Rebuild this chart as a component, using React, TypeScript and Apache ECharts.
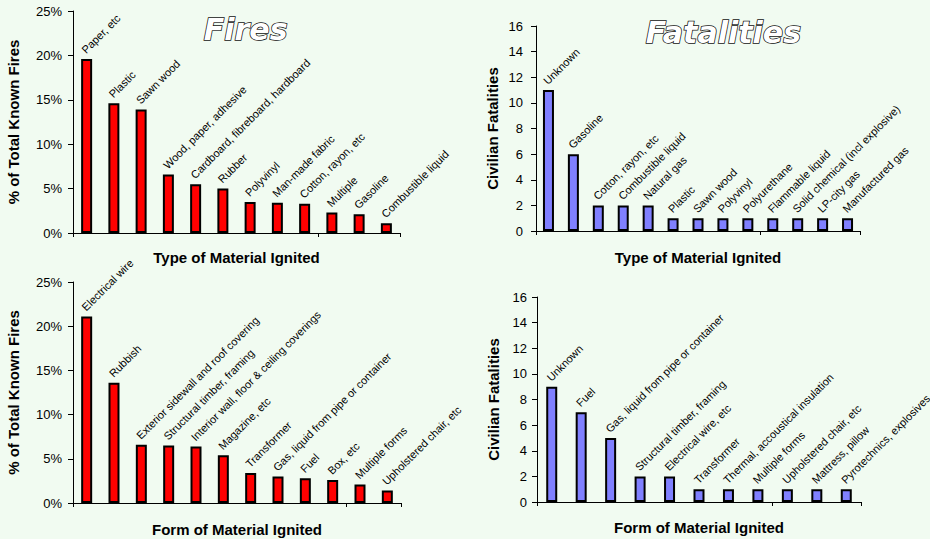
import React, { useEffect, useRef } from "react";
import * as echarts from "echarts";

const fireTypeCats = ["Paper, etc", "Plastic", "Sawn wood", "Wood, paper, adhesive", "Cardboard, fibreboard, hardboard", "Rubber", "Polyvinyl", "Man-made fabric", "Cotton, rayon, etc", "Multiple", "Gasoline", "Combustible liquid"];
const fireTypeVals = [19.6, 14.6, 13.9, 6.6, 5.5, 5.0, 3.5, 3.4, 3.3, 2.3, 2.1, 1.1];

const fatalTypeCats = ["Unknown", "Gasoline", "Cotton, rayon, etc", "Combustible liquid", "Natural gas", "Plastic", "Sawn wood", "Polyvinyl", "Polyurethane", "Flammable liquid", "Solid chemical (incl explosive)", "LP-city gas", "Manufactured gas"];
const fatalTypeVals = [11, 6, 2, 2, 2, 1, 1, 1, 1, 1, 1, 1, 1];

const fireFormCats = ["Electrical wire", "Rubbish", "Exterior sidewall and roof covering", "Structural timber, framing", "Interior wall, floor & ceiling coverings", "Magazine, etc", "Transformer", "Gas, liquid from pipe or container", "Fuel", "Box, etc", "Multiple forms", "Upholstered chair, etc"];
const fireFormVals = [21.1, 13.6, 6.6, 6.5, 6.4, 5.4, 3.4, 3.0, 2.8, 2.6, 2.1, 1.4];

const fatalFormCats = ["Unknown", "Fuel", "Gas, liquid from pipe or container", "Structural timber, framing", "Electrical wire, etc", "Transformer", "Thermal, accoustical insulation", "Multiple forms", "Upholstered chair, etc", "Mattress, pillow", "Pyrotechnics, explosives"];
const fatalFormVals = [9, 7, 5, 2, 2, 1, 1, 1, 1, 1, 1];

const FONT = "'Liberation Sans', Arial, sans-serif";

export default function App() {
  const ref = useRef<HTMLDivElement>(null);
  useEffect(() => {
    document.body.style.margin = "0";
    const chart = echarts.init(ref.current!, null, { renderer: "svg" });

    const grids = [
      { left: 73, top: 11, width: 327, height: 222 },
      { left: 536, top: 26, width: 324, height: 205 },
      { left: 73, top: 282, width: 328, height: 221 },
      { left: 537, top: 297, width: 324, height: 205 },
    ];
    const cats = [fireTypeCats, fatalTypeCats, fireFormCats, fatalFormCats];
    const vals = [fireTypeVals, fatalTypeVals, fireFormVals, fatalFormVals];
    const xNames = ["Type of Material Ignited", "Type of Material Ignited", "Form of Material Ignited", "Form of Material Ignited"];
    const yNames = ["% of Total Known Fires", "Civilian Fatalities", "% of Total Known Fires", "Civilian Fatalities"];
    const colors = ["#FF0000", "#8080FF", "#FF0000", "#8080FF"];
    const isPct = [true, false, true, false];
    const xGaps = [17, 19, 19, 18];
    const yGaps = [52, 36, 52, 36];
    const labelMargins = [11, 13, 11, 10];

    const axisLine = { show: true, lineStyle: { color: "#000", width: 1 } };
    const option: any = {
      animation: false,
      backgroundColor: "#F1FBF1",
      grid: grids.map((g) => ({ ...g, containLabel: false })),
      xAxis: grids.map((_, i) => ({
        type: "category",
        gridIndex: i,
        data: cats[i],
        boundaryGap: true,
        axisLine,
        axisTick: { show: true, length: 4, alignWithLabel: false, lineStyle: { color: "#000" } },
        axisLabel: { show: false },
        name: xNames[i],
        nameLocation: "middle",
        nameGap: xGaps[i],
        nameTextStyle: { fontFamily: FONT, fontWeight: "bold", fontSize: 15, color: "#000" },
      })),
      yAxis: grids.map((_, i) => ({
        type: "value",
        gridIndex: i,
        min: 0,
        max: isPct[i] ? 25 : 16,
        interval: isPct[i] ? 5 : 2,
        axisLine,
        axisTick: { show: true, length: 5, lineStyle: { color: "#000" } },
        splitLine: { show: false },
        axisLabel: {
          fontFamily: FONT,
          fontSize: 13,
          color: "#000",
          margin: labelMargins[i],
          formatter: isPct[i] ? (v: number) => v + "%" : (v: number) => String(v),
        },
        name: yNames[i],
        nameLocation: "middle",
        nameGap: yGaps[i],
        nameRotate: 90,
        nameTextStyle: { fontFamily: FONT, fontWeight: "bold", fontSize: 15, color: "#000" },
      })),
      series: grids.map((_, i) => ({
        type: "bar",
        xAxisIndex: i,
        yAxisIndex: i,
        data: vals[i],
        barWidth: 11,
        itemStyle: { color: colors[i], borderColor: "#000", borderWidth: 2 },
        label: {
          show: true,
          position: "top",
          distance: 3,
          rotate: 45,
          align: "left",
          verticalAlign: "bottom",
          offset: [1, 0],
          formatter: (p: any) => p.name,
          fontFamily: FONT,
          fontSize: 11,
          color: "#000",
        },
      })),
      graphic: [
        {
          type: "text",
          left: 203,
          top: 14,
          style: {
            text: "Fires",
            font: "italic bold 30px 'DejaVu Sans', sans-serif",
            fill: "#FFFFFF",
            stroke: "#111111",
            lineWidth: 1.5,
          },
        },
        {
          type: "text",
          left: 645,
          top: 17,
          style: {
            text: "Fatalities",
            font: "italic bold 30px 'DejaVu Sans', sans-serif",
            fill: "#FFFFFF",
            stroke: "#111111",
            lineWidth: 1.5,
          },
        },
      ],
    };
    chart.setOption(option);
    return () => chart.dispose();
  }, []);
  return <div ref={ref} style={{ position: "absolute", left: 0, top: 0, width: 930, height: 539 }} />;
}
